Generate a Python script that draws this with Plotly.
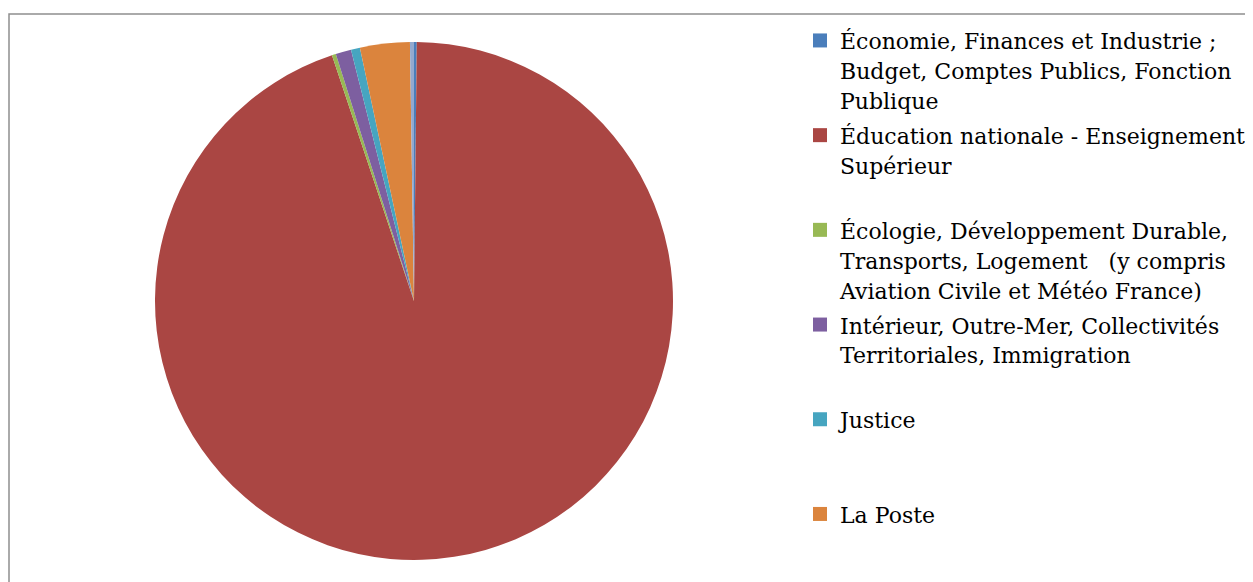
import plotly.graph_objects as go

NBSP = "\u00a0"

# Slice data (clockwise from 12 o'clock)
labels = [
    "Économie, Finances et Industrie ; Budget, Comptes Publics, Fonction Publique",
    "Éducation nationale - Enseignement Supérieur",
    "Écologie, Développement Durable, Transports, Logement (y compris Aviation Civile et Météo France)",
    "Intérieur, Outre-Mer, Collectivités Territoriales, Immigration",
    "Justice",
    "La Poste",
    "Autres",
]
values = [0.17, 94.7, 0.25, 0.97, 0.56, 3.1, 0.25]
colors = ["#4A7EBB", "#AA4643", "#98B954", "#7D5FA0", "#46A5C0", "#DB843D", "#93A9CF"]

# Legend text as wrapped in the reference (first six entries are visible)
legend_text = [
    "Économie, Finances et Industrie ;<br>Budget, Comptes Publics, Fonction<br>Publique",
    "Éducation nationale - Enseignement<br>Supérieur<br>" + NBSP,
    "Écologie, Développement Durable,<br>Transports, Logement" + NBSP * 3 + "(y compris<br>Aviation Civile et Météo France)",
    "Intérieur, Outre-Mer, Collectivités<br>Territoriales, Immigration<br>" + NBSP,
    "Justice<br>" + NBSP + "<br>" + NBSP,
    "La Poste",
]

W, H = 1253, 582
OFF = 8  # page body margin
cx, cy, r = 414 - OFF, 301 - OFF, 259

fig = go.Figure()
fig.add_trace(
    go.Pie(
        labels=labels,
        values=values,
        sort=False,
        direction="clockwise",
        rotation=0,
        marker=dict(colors=colors, line=dict(width=0)),
        textinfo="none",
        hoverinfo="label+percent",
        showlegend=False,
        domain=dict(
            x=[(cx - r) / W, (cx + r) / W],
            y=[(H - cy - r) / H, (H - cy + r) / H],
        ),
    )
)

for i, txt in enumerate(legend_text):
    fig.add_trace(
        go.Scatter(
            x=[None],
            y=[None],
            mode="markers",
            name="<span style='font-size:22px'>" + txt + "</span>",
            legendgroup="g%d" % i,
            marker=dict(symbol="square", size=14, color=colors[i]),
            showlegend=True,
            hoverinfo="skip",
        )
    )

fig.update_layout(
    width=W,
    height=H,
    margin=dict(l=0, r=0, t=0, b=0),
    paper_bgcolor="white",
    plot_bgcolor="rgba(0,0,0,0)",
    xaxis=dict(visible=False),
    yaxis=dict(visible=False),
    showlegend=True,
    legend=dict(
        x=(840 - OFF - 40) / W,
        xanchor="left",
        y=1 - 11 / H,
        yanchor="top",
        valign="top",
        font=dict(family="DejaVu Serif", size=23, color="black"),
        bgcolor="rgba(0,0,0,0)",
        itemwidth=30,
        traceorder="grouped",
        tracegroupgap=2,
    ),
    shapes=[
        dict(
            type="rect",
            xref="paper",
            yref="paper",
            x0=1 / W,
            x1=1.05,
            y0=-0.05,
            y1=1 - 6 / H,
            line=dict(color="#8E8E8E", width=1.5),
            fillcolor="rgba(0,0,0,0)",
            layer="below",
        )
    ],
)

fig.write_html("out.html")
